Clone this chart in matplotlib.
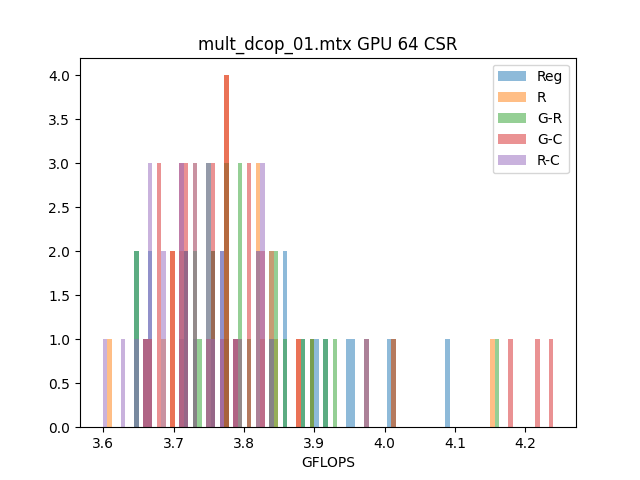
import numpy as np
import matplotlib
matplotlib.use('Agg')
import matplotlib.pyplot as plt

# GFLOPS per run, one list per variant
reg = [3.6465, 3.6478, 3.6601, 3.6655, 3.6670, 3.7110, 3.7170, 3.7183, 3.7301,
       3.7552, 3.7566, 3.7684, 3.7695, 3.7750, 3.7879, 3.8196, 3.8208, 3.8389,
       3.8400, 3.8580, 3.8592, 3.8840, 3.8969, 3.9037, 3.9160, 3.9481, 3.9550,
       3.9738, 4.0061, 4.0893]
r = [3.6086, 3.6597, 3.6661, 3.6857, 3.6980, 3.6989, 3.7106, 3.7118, 3.7298,
     3.7305, 3.7311, 3.7745, 3.7751, 3.7756, 3.7762, 3.7884, 3.7942, 3.8195,
     3.8203, 3.8210, 3.8268, 3.8391, 3.8397, 3.8455, 3.8780, 3.8973, 3.9743,
     4.1533]
g_r = [3.6468, 3.6474, 3.7173, 3.7180, 3.7302, 3.7309, 3.7370, 3.7490, 3.7497,
       3.7503, 3.7558, 3.7563, 3.7748, 3.7754, 3.7759, 3.7940, 3.7946, 3.7951,
       3.8075, 3.8396, 3.8453, 3.8461, 3.8589, 3.8845, 3.8970, 3.9165, 3.9290,
       4.0126, 4.1601]
g_c = [3.6600, 3.6664, 3.6785, 3.6792, 3.6798, 3.6982, 3.6987, 3.7108, 3.7113,
       3.7117, 3.7172, 3.7177, 3.7181, 3.7495, 3.7555, 3.7561, 3.7565, 3.7690,
       3.7747, 3.7752, 3.7757, 3.7760, 3.7882, 3.8070, 3.8074, 3.8078, 3.8263,
       3.8269, 3.8776, 4.0122, 4.1790, 4.2177, 4.2400]
r_c = [3.5990, 3.6279, 3.6472, 3.6598, 3.6658, 3.6663, 3.6668, 3.6852, 3.6858,
       3.7109, 3.7114, 3.7119, 3.7174, 3.7179, 3.7300, 3.7306, 3.7310, 3.7492,
       3.7498, 3.7501, 3.7559, 3.7686, 3.7692, 3.7880, 3.7944, 3.8199, 3.8205,
       3.8262, 3.8265, 3.8270, 3.8393, 3.9741]

labels = ['Reg', 'R', 'G-R', 'G-C', 'R-C']
series = [reg, r, g_r, g_c, r_c]

# shared bins over all runs
all_vals = np.concatenate(series)
bins = np.linspace(all_vals.min(), all_vals.max(), 101)

plt.figure(figsize=(6.4, 4.8), dpi=100)
for vals, label in zip(series, labels):
    plt.hist(vals, bins=bins, alpha=0.5, label=label)

plt.legend()
plt.xlabel('GFLOPS')
plt.title('mult_dcop_01.mtx GPU 64 CSR')
plt.savefig('out.png')
